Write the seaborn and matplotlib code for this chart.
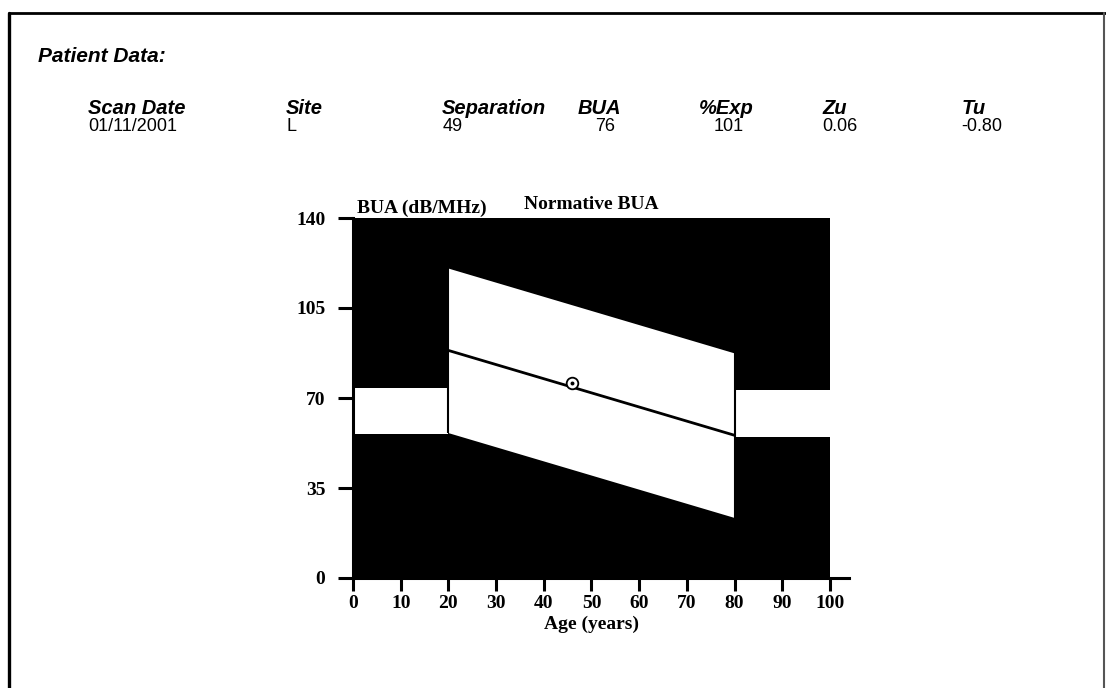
import matplotlib
matplotlib.use("Agg")
import matplotlib.pyplot as plt
from matplotlib.lines import Line2D
import seaborn as sns
import pandas as pd

# ---- data ----
header_labels = ["Scan Date", "Site", "Separation", "BUA", "%Exp", "Zu", "Tu"]
header_values = ["01/11/2001", "L", "49", "76", "101", "0.06", "-0.80"]

left_ages = [0, 20]
left_low = [56, 56]
left_high = [74, 74]

norm_ages = [20, 80]
norm_mean = [88.5, 55.5]
norm_lower = [56.5, 23.5]
norm_upper = [120.5, 87.5]

right_ages = [80, 100]
right_low = [55, 55]
right_high = [73, 73]

patient_age = [46]
patient_bua = [76]

x_ticks = [0, 10, 20, 30, 40, 50, 60, 70, 80, 90, 100]
y_ticks = [0, 35, 70, 105, 140]

# ---- figure ----
sns.set_theme(style="ticks")
plt.rcParams['font.family'] = ['Liberation Sans', 'DejaVu Sans']
plt.rcParams['text.color'] = 'black'
plt.rcParams['axes.labelcolor'] = 'black'
plt.rcParams['xtick.color'] = 'black'
plt.rcParams['ytick.color'] = 'black'

W, H = 1106, 688
fig = plt.figure(figsize=(W / 100, H / 100), dpi=100)
fig.patch.set_facecolor("white")

# frame
fig.add_artist(Line2D([9 / W, 9 / W], [0, 1 - 13 / H], color="black", lw=2.4))
fig.add_artist(Line2D([9 / W, 1], [1 - 13 / H, 1 - 13 / H], color="black", lw=2.0))
fig.add_artist(Line2D([1104 / W, 1104 / W], [0, 1 - 13 / H], color="#555555", lw=1.5))

# header text
fig.text(38 / W, 1 - 57 / H, "Patient Data:", fontsize=15, fontweight="bold",
         fontstyle="italic", ha="left", va="center", family=['Liberation Sans'],
         color="black")
col_x = [88, 286, 442, 578, 699, 822, 962]
val_x = [88, 287, 443, 595, 714, 822, 961]
for lab, xx in zip(header_labels, col_x):
    fig.text(xx / W, 1 - 114 / H, lab, fontsize=14.5, fontweight="bold",
             fontstyle="italic", ha="left", va="baseline", family=['Liberation Sans'],
             color="black")
for val, xx in zip(header_values, val_x):
    fig.text(xx / W, 1 - 131 / H, val, fontsize=13, ha="left", va="baseline",
             family=['Liberation Sans'], color="black")

# axes
x0, x1 = 353, 849
y0, y1 = 578, 218
ax = fig.add_axes([x0 / W, 1 - y0 / H, (x1 - x0) / W, (y0 - y1) / H])
ax.set_facecolor("white")
ax.set_xlim(0, 104)
ax.set_ylim(0, 140)

# black background region
ax.fill_between([0, 100], [0, 0], [140, 140], color="black", lw=0, zorder=1)
# white bands
ax.fill_between(left_ages, left_low, left_high, color="white", lw=0, zorder=2)
ax.fill_between(norm_ages, norm_lower, norm_upper, color="white", lw=0, zorder=2)
ax.fill_between(right_ages, right_low, right_high, color="white", lw=0, zorder=2)
# boundary lines of normative parallelogram
ax.vlines([norm_ages[0]], norm_lower[0], norm_upper[0], color="black", lw=1.5, zorder=3)
ax.vlines([norm_ages[1]], norm_lower[1], norm_upper[1], color="black", lw=1.5, zorder=3)

df_mean = pd.DataFrame({"age": norm_ages, "bua": norm_mean})
sns.lineplot(data=df_mean, x="age", y="bua", color="black", lw=2.0, ax=ax, zorder=4)

df_pt = pd.DataFrame({"age": patient_age, "bua": patient_bua})
sns.scatterplot(data=df_pt, x="age", y="bua", marker="o", s=70, facecolor="white",
                edgecolor="black", linewidth=1.3, ax=ax, zorder=5)
sns.scatterplot(data=df_pt, x="age", y="bua", marker="o", s=8, color="black",
                linewidth=0, ax=ax, zorder=6)

for sp in ["top", "right"]:
    ax.spines[sp].set_visible(False)
ax.spines["left"].set_linewidth(2.2)
ax.spines["bottom"].set_linewidth(2.2)
ax.spines["left"].set_color("black")
ax.spines["bottom"].set_color("black")

ax.set_xticks(x_ticks)
ax.set_yticks(y_ticks)
ax.set_xticklabels([str(t) for t in x_ticks])
ax.set_yticklabels([str(t) for t in y_ticks])
ax.tick_params(axis="y", direction="out", length=11, width=2.2, pad=9, color="black",
               labelsize=14, labelcolor="black")
ax.tick_params(axis="x", direction="out", length=9, width=2.2, pad=3, color="black",
               labelsize=14, labelcolor="black")
for lab in ax.get_xticklabels() + ax.get_yticklabels():
    lab.set_family(["Liberation Serif"])
    lab.set_fontweight("bold")

ax.set_xlabel("Age (years)", fontsize=14, fontweight="bold", family=["Liberation Serif"],
              labelpad=2, color="black")
ax.xaxis.set_label_coords(50 / 104, -0.105)
ax.set_ylabel("")

ax.text(0.8, 140.3, "BUA (dB/MHz)", fontsize=14, fontweight="bold",
        family=["Liberation Serif"], ha="left", va="bottom", color="black")
ax.text(50, 142.0, "Normative BUA", fontsize=14, fontweight="bold",
        family=["Liberation Serif"], ha="center", va="bottom", color="black")

fig.savefig("out.png", dpi=100, facecolor="white")
